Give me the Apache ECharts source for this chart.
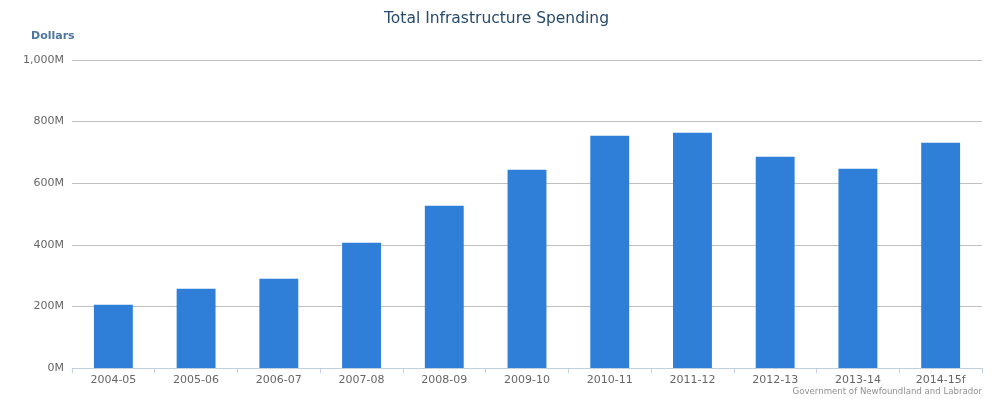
<!DOCTYPE html>
<html>
<head>
<meta charset="utf-8">
<script src="https://cdn.jsdelivr.net/npm/echarts@6/dist/echarts.min.js"></script>
<style>
  html, body { margin: 0; padding: 0; background: #fff; }
  #chart { width: 993px; height: 399px; }
</style>
</head>
<body>
<div id="chart"></div>
<script>
var categories = ['2004-05', '2005-06', '2006-07', '2007-08', '2008-09', '2009-10',
  '2010-11', '2011-12', '2012-13', '2013-14', '2014-15f'];
// millions of dollars
var spending = [205, 257, 290, 407, 527, 644, 754, 764, 686, 647, 731];

var chart = echarts.init(document.getElementById('chart'), null, { renderer: 'canvas' });

var option = {
  animation: false,
  textStyle: { fontFamily: 'DejaVu Sans, sans-serif' },
  title: {
    text: 'Total Infrastructure Spending',
    left: 'center',
    top: 6,
    textStyle: { color: '#274b6d', fontSize: 15.5, fontWeight: 'normal', fontFamily: 'DejaVu Sans, sans-serif' }
  },
  graphic: [{
    type: 'text',
    left: 31,
    top: 31,
    style: { text: 'Dollars', fill: '#4d759e', font: 'bold 11px DejaVu Sans, sans-serif' }
  }, {
    type: 'text',
    right: 11,
    bottom: 3,
    style: { text: 'Government of Newfoundland and Labrador', fill: '#909090', font: '8.6px DejaVu Sans, sans-serif' }
  }],
  grid: { left: 72, right: 11, top: 60, bottom: 31 },
  xAxis: {
    type: 'category',
    data: categories,
    axisLine: { lineStyle: { color: '#c0d0e0', width: 1 } },
    axisTick: { show: true, length: 5, lineStyle: { color: '#c0d0e0' } },
    axisLabel: { color: '#666', fontSize: 11, margin: 7 }
  },
  yAxis: {
    type: 'value',
    min: 0,
    max: 1000,
    interval: 200,
    axisLine: { show: false },
    axisTick: { show: false },
    axisLabel: {
      color: '#666',
      fontSize: 11,
      margin: 8,
      formatter: function (v) { return v.toLocaleString('en-US') + 'M'; }
    },
    splitLine: { lineStyle: { color: '#c0c0c0', width: 1 } }
  },
  series: [{
    type: 'bar',
    data: spending,
    barWidth: '47%',
    itemStyle: { color: '#2f7ed8' }
  }]
};

chart.setOption(option);
</script>
</body>
</html>
